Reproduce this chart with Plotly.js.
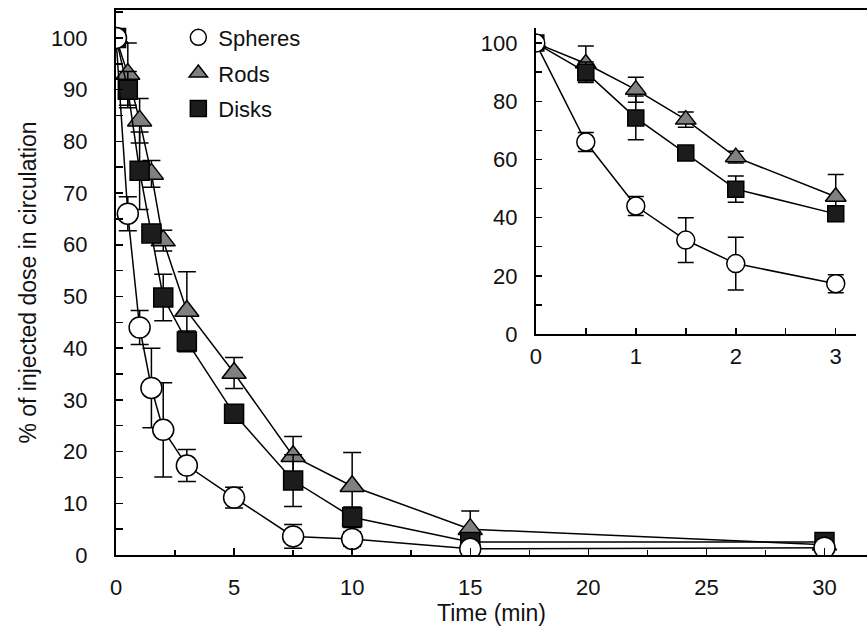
<!DOCTYPE html>
<html>
<head>
<meta charset="utf-8">
<script src="https://cdn.plot.ly/plotly-3.0.1.min.js"></script>
<style>html,body{margin:0;padding:0;background:#fff;}#chart{width:867px;height:630px;}</style>
</head>
<body>
<div id="chart"></div>
<script>
// Time points (min)
const timeMin = [0, 0.5, 1, 1.5, 2, 3, 5, 7.5, 10, 15, 30];
// % of injected dose in circulation
const spheres    = [100, 66, 44, 32.3, 24.2, 17.3, 11.1, 3.6, 3.1, 1.2, 1.4];
const spheresErr = [0, 3.3, 3.3, 7.7, 9.1, 3.1, 2.0, 2.3, 1.4, 0.4, 0.5];
const rods       = [100, 93, 84, 73.7, 60.8, 47.2, 35.2, 19.1, 13.3, 5.0, 2.0];
const rodsErr    = [0, 6, 4.3, 2.6, 2.0, 7.6, 3.0, 3.8, 6.5, 3.5, 0.4];
const disks      = [100, 90, 74.3, 62.2, 49.8, 41.3, 27.3, 14.4, 7.3, 2.5, 2.5];
const disksErr   = [0, 3.5, 7.5, 1.4, 4.5, 2.0, 1.0, 5.0, 2.0, 0.4, 0.4];
const seriesNames = ['Spheres', 'Rods', 'Disks'];
const nInset = 6; // inset shows the first 3 minutes

const FONT = 'Liberation Sans, Arial, sans-serif';
const styles = {
  Spheres: {symbol: 'circle', color: '#ffffff', size: 21, isize: 18},
  Rods: {symbol: 'triangle-up', color: '#808080', size: 21, isize: 18},
  Disks: {symbol: 'square', color: '#1c1c1c', size: 19, isize: 16}
};
const dataBy = {
  Spheres: [spheres, spheresErr],
  Rods: [rods, rodsErr],
  Disks: [disks, disksErr]
};

function trace(name, inset) {
  const st = styles[name];
  const [vals, errs] = dataBy[name];
  const n = inset ? nInset : timeMin.length;
  return {
    type: 'scatter', mode: 'lines+markers', name: name, showlegend: false,
    x: timeMin.slice(0, n), y: vals.slice(0, n),
    xaxis: inset ? 'x2' : 'x', yaxis: inset ? 'y2' : 'y',
    line: {color: '#000', width: 1.5},
    marker: {symbol: st.symbol, size: inset ? st.isize : st.size, color: st.color,
             line: {color: '#000', width: 1.5}},
    error_y: {type: 'data', array: errs.slice(0, n), visible: true, color: '#000',
              thickness: 1.5, width: inset ? 8 : 9},
    cliponaxis: true
  };
}

const drawOrder = ['Rods', 'Disks', 'Spheres'];
const traces = [];
drawOrder.forEach(n => traces.push(trace(n, false)));
drawOrder.forEach(n => traces.push(trace(n, true)));
seriesNames.forEach((n, i) => {
  const st = styles[n];
  traces.push({
    type: 'scatter', mode: 'markers', name: n, x: [null], y: [null],
    legendrank: i + 1, legendgroup: n, showlegend: true,
    marker: {symbol: st.symbol, size: 16, color: st.color, line: {color: '#000', width: 1.5}}
  });
});

const axisCommon = {
  showgrid: false, zeroline: false, showline: true, linecolor: '#000', linewidth: 2,
  ticks: 'inside', tickcolor: '#000', tickwidth: 1.5, ticklen: 7,
  tickfont: {family: FONT, size: 22, color: '#111'}
};

const layout = {
  width: 867, height: 630,
  margin: {l: 116, r: 0, t: 10, b: 75},
  paper_bgcolor: '#fff', plot_bgcolor: '#fff',
  font: {family: FONT, color: '#111'},
  showlegend: true,
  legend: {x: 0.083, y: 0.988, xanchor: 'left', yanchor: 'top', bgcolor: 'rgba(0,0,0,0)',
           font: {family: FONT, size: 22, color: '#111'}, tracegroupgap: 4, itemwidth: 30,
           traceorder: 'grouped'},
  xaxis: Object.assign({}, axisCommon, {
    domain: [0, 1], range: [0, 31.8], tick0: 0, dtick: 5, mirror: true,
    minor: {dtick: 2.5, ticks: 'inside', ticklen: 5, tickwidth: 1.5, tickcolor: '#000'},
    ticklabelstandoff: 12,
    title: {text: 'Time (min)', font: {family: FONT, size: 23, color: '#111'}, standoff: 5}
  }),
  yaxis: Object.assign({}, axisCommon, {
    domain: [0, 1], range: [0, 105.4], tick0: 0, dtick: 10,
    minor: {dtick: 5, ticks: 'inside', ticklen: 7, tickwidth: 1.5, tickcolor: '#000'},
    ticklabelstandoff: 22,
    title: {text: '% of injected dose in circulation', font: {family: FONT, size: 23, color: '#111'}, standoff: 8}
  }),
  xaxis2: Object.assign({}, axisCommon, {
    domain: [0.559, 0.985], range: [0, 3.2], tick0: 0, dtick: 1, anchor: 'y2',
    minor: {dtick: 0.5, ticks: 'inside', ticklen: 6, tickwidth: 1.5, tickcolor: '#000'},
    ticklen: 6, ticklabelstandoff: 2
  }),
  yaxis2: Object.assign({}, axisCommon, {
    domain: [0.4055, 0.967], range: [0, 105.2], tick0: 0, dtick: 20, anchor: 'x2',
    minor: {dtick: 10, ticks: 'inside', ticklen: 6, tickwidth: 1.5, tickcolor: '#000'},
    ticklen: 6, ticklabelstandoff: 12
  })
};

Plotly.newPlot('chart', traces, layout, {displayModeBar: false, staticPlot: true});
</script>
</body>
</html>
